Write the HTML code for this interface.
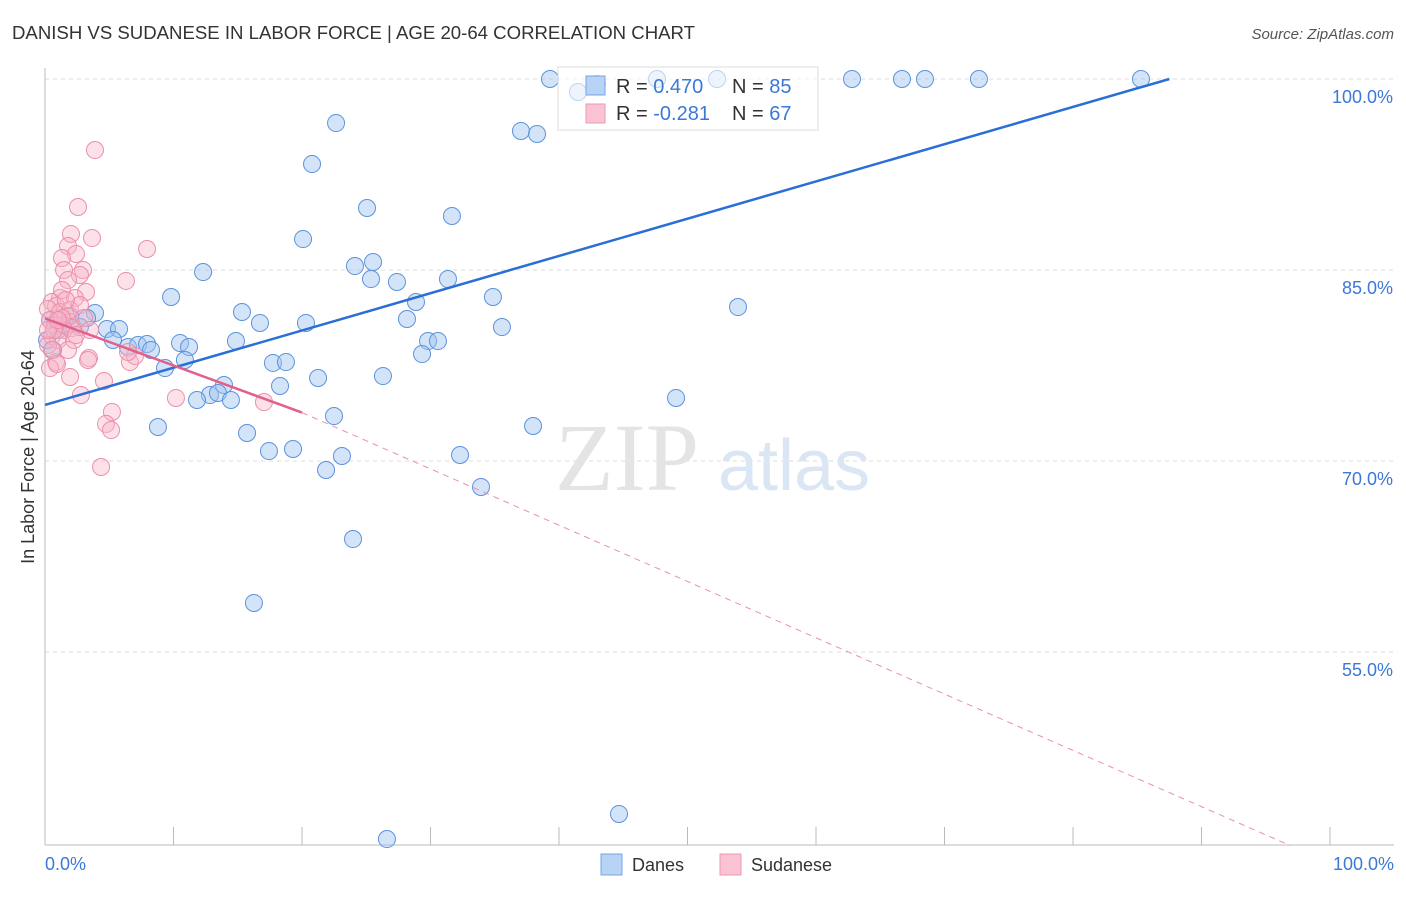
<!DOCTYPE html>
<html><head><meta charset="utf-8"><style>
body{margin:0;background:#fff;font-family:"Liberation Sans",sans-serif;}
svg text{font-family:"Liberation Sans",sans-serif;}
</style></head><body>
<svg width="1406" height="892" viewBox="0 0 1406 892">
<text x="12" y="39" font-size="18.6" fill="#333">DANISH VS SUDANESE IN LABOR FORCE | AGE 20-64 CORRELATION CHART</text>
<text x="1394" y="39" font-size="15" fill="#555" font-style="italic" text-anchor="end">Source: ZipAtlas.com</text>
<g id="grid"></g>
<line x1="45" y1="68" x2="45" y2="845" stroke="#bbb"/>
<line x1="45" y1="845" x2="1394" y2="845" stroke="#bbb"/>
<g id="xticks"></g>
<text x="0" y="0" transform="translate(34,457) rotate(-90)" font-size="18" fill="#333" text-anchor="middle">In Labor Force | Age 20-64</text>
<text x="45" y="870" font-size="18" fill="#3b78d8">0.0%</text>
<text x="1394" y="870" font-size="18" fill="#3b78d8" text-anchor="end">100.0%</text>
<text x="555" y="490" font-size="96" fill="#e4e4e4" style="font-family:'Liberation Serif',serif">ZIP</text>
<text x="718" y="490" font-size="72" fill="#dbe6f5">atlas</text>
<g id="pts"></g>
<g id="lines"></g>
<g>
<rect x="558" y="67" width="260" height="63" fill="rgba(255,255,255,0.6)" stroke="#ddd"/>
<rect x="586" y="76" width="19" height="19" fill="#b7d3f5" stroke="#7aa6e0"/>
<rect x="586" y="104" width="19" height="19" fill="#f9c3d3" stroke="#ee9ab3"/>
<text x="616" y="93" font-size="20" fill="#333">R = <tspan fill="#3b78d8">0.470</tspan><tspan x="732">N = </tspan><tspan fill="#3b78d8">85</tspan></text>
<text x="616" y="120" font-size="20" fill="#333">R = <tspan fill="#3b78d8">-0.281</tspan><tspan x="732">N = </tspan><tspan fill="#3b78d8">67</tspan></text>
</g>
<g>
<rect x="601" y="854" width="21" height="21" fill="#b7d3f5" stroke="#7aa6e0"/>
<text x="632" y="871" font-size="18" fill="#333">Danes</text>
<rect x="720" y="854" width="21" height="21" fill="#f9c3d3" stroke="#ee9ab3"/>
<text x="751" y="871" font-size="18" fill="#333">Sudanese</text>
</g>
</svg>
<script>
const yTicks=[100,85,70,55];
const yTickLabels=["100.0%","85.0%","70.0%","55.0%"];
const danesPx=[[550,79],[578,92],[597,84],[657,79],[717,79],[852,79],[902,79],[925,79],[979,79],[1141,79],[336,123],[312,164],[521,131],[537,134],[367,208],[452,216],[303,239],[203,272],[355,266],[373,262],[371,279],[397,282],[448,279],[171,297],[416,302],[493,297],[242,312],[260,323],[306,323],[407,319],[502,327],[738,307],[95,313],[87,318],[80,327],[107,329],[119,329],[113,340],[128,347],[138,345],[147,344],[151,350],[180,343],[189,347],[185,360],[165,368],[236,341],[273,363],[286,362],[280,386],[224,385],[210,395],[218,393],[197,400],[231,400],[318,378],[383,376],[428,341],[438,341],[422,354],[53,350],[58,330],[676,398],[334,416],[158,427],[247,433],[269,451],[293,449],[342,456],[326,470],[460,455],[533,426],[481,487],[353,539],[254,603],[619,814],[387,839],[47,340],[50,320],[62,325],[70,316]];
const sudPx=[[95,150],[78,207],[92,238],[71,234],[68,246],[76,254],[62,258],[64,270],[83,270],[80,275],[68,280],[147,249],[126,281],[86,292],[60,298],[75,298],[52,302],[56,306],[48,309],[60,312],[66,316],[50,320],[55,325],[70,322],[72,328],[64,330],[52,336],[58,340],[74,340],[48,345],[89,358],[68,350],[88,360],[130,362],[135,356],[104,381],[70,377],[56,362],[50,368],[81,395],[176,398],[264,402],[112,412],[106,424],[111,430],[101,467],[70,310],[62,318],[54,330],[80,305],[84,318],[62,290],[48,330],[58,320],[66,300],[76,335],[52,350],[90,330],[57,364],[128,352]];
const danesX=danesPx.map(p=>+((p[0]-45)/12.85).toFixed(2));
const danesY=danesPx.map(p=>+(100-(p[1]-79)/12.733).toFixed(2));
const sudX=sudPx.map(p=>+((p[0]-45)/12.85).toFixed(2));
const sudY=sudPx.map(p=>+(100-(p[1]-79)/12.733).toFixed(2));
const danesTrend=[[0,74.4],[87.5,100]];
const sudTrend=[[0,81.2],[20,73.8],[96.9,39.8]];
const X=v=>45+v*12.85, Y=v=>79+(100-v)*12.733;
const NS="http://www.w3.org/2000/svg";
function mk(t,a,p){const e=document.createElementNS(NS,t);for(const k in a)e.setAttribute(k,a[k]);p.appendChild(e);return e;}
const grid=document.getElementById('grid');
yTicks.forEach((t,i)=>{
 const l=mk('line',{x1:45,x2:1394,y1:Y(t),y2:Y(t),stroke:'#ddd','stroke-dasharray':'4,4'},grid);
 
 
 const tx=mk('text',{x:1393,y:Y(t)+24,'font-size':18,fill:'#3b78d8','text-anchor':'end'},grid);
 tx.textContent=yTickLabels[i];
 
 
});
const xt=document.getElementById('xticks');
for(let i=1;i<=10;i++){const l=mk('line',{x1:X(i*10),x2:X(i*10),y1:827,y2:845,stroke:'#bbb'},xt);
 
 }
const pts=document.getElementById('pts');
danesX.forEach((x,i)=>{const c=mk('circle',{cx:X(x),cy:Y(danesY[i]),r:8.5,fill:'rgba(160,195,240,0.45)',stroke:'#5b93dc','stroke-width':1},pts);
 
 });
sudX.forEach((x,i)=>{const c=mk('circle',{cx:X(x),cy:Y(sudY[i]),r:8.5,fill:'rgba(248,180,200,0.4)',stroke:'#ec8fab','stroke-width':1},pts);
 
 });
const ln=document.getElementById('lines');
let l1=mk('line',{x1:X(danesTrend[0][0]),y1:Y(danesTrend[0][1]),x2:X(danesTrend[1][0]),y2:Y(danesTrend[1][1]),stroke:'#2a6fd6','stroke-width':2.5},ln);


let l2=mk('line',{x1:X(sudTrend[0][0]),y1:Y(sudTrend[0][1]),x2:X(sudTrend[1][0]),y2:Y(sudTrend[1][1]),stroke:'#e3608a','stroke-width':2.5},ln);


let l3=mk('line',{x1:X(sudTrend[1][0]),y1:Y(sudTrend[1][1]),x2:X(sudTrend[2][0]),y2:Y(sudTrend[2][1]),stroke:'#eb8fab','stroke-width':1,'stroke-dasharray':'6,5'},ln);


</script>
</body></html>
